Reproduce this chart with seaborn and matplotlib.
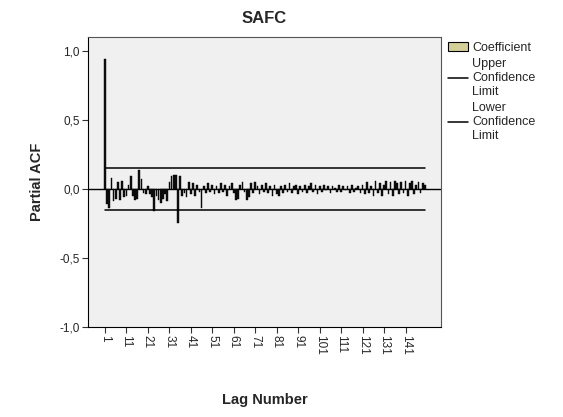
"""
Partial autocorrelation plot for SAFC (SPSS style)
"""

## Import packages
import numpy as np
import pandas as pd
import matplotlib.pyplot as plt
import seaborn as sns
from matplotlib.patches import Patch
from matplotlib.lines import Line2D


## Data
lags = list(range(1, 151))

pacf = [0.94, -0.11, -0.14, 0.08, -0.09, -0.07, 0.05, -0.08, 0.06, -0.06,
        -0.05, 0.03, 0.09, -0.05, -0.08, -0.07, 0.14, 0.07, -0.03, -0.04,
        0.02, -0.04, -0.06, -0.16, -0.05, -0.08, -0.10, -0.07, -0.04, -0.09,
        0.05, 0.09, 0.10, 0.10, -0.25, 0.09, -0.05, -0.03, -0.06, 0.05,
        -0.04, 0.04, -0.05, 0.03, -0.02, -0.14, 0.02, -0.03, 0.04, -0.02,
        0.03, -0.04, 0.02, -0.03, 0.04, -0.02, 0.03, -0.05, 0.02, 0.04,
        -0.03, -0.08, -0.07, 0.03, 0.05, -0.02, -0.08, -0.06, 0.04, -0.03,
        0.05, 0.02, -0.04, 0.03, -0.02, 0.04, -0.03, 0.02, -0.05, 0.03,
        -0.04, -0.05, 0.02, -0.03, 0.03, -0.02, 0.04, -0.03, 0.02, 0.03,
        -0.04, 0.02, -0.02, 0.03, -0.03, 0.02, 0.04, -0.02, 0.03, -0.04,
        0.02, -0.02, 0.03, -0.01, 0.02, -0.03, 0.02, 0.01, -0.02, 0.03,
        -0.02, 0.02, -0.01, 0.02, -0.03, 0.03, -0.02, 0.01, 0.02, -0.03,
        0.03, -0.04, 0.05, -0.03, 0.02, -0.05, 0.06, -0.03, 0.04, -0.05,
        0.03, 0.06, -0.04, 0.05, -0.05, 0.06, 0.04, -0.04, 0.05, -0.03,
        0.06, -0.05, 0.04, 0.06, -0.04, 0.03, 0.05, -0.03, 0.04, 0.03]

upper_limit = 0.151
lower_limit = -0.151

x_ticks = list(range(1, 151, 10))
y_ticks = [-1.0, -0.5, 0.0, 0.5, 1.0]
y_ticklabels = ["-1,0", "-0,5", "0,0", "0,5", "1,0"]

df = pd.DataFrame({'lag': lags, 'pacf': pacf})


## Figure setup
sns.set_theme(style='ticks')
plt.rcParams['font.family'] = ['Liberation Sans', 'DejaVu Sans']

fig = plt.figure(figsize=(5.63, 4.17), dpi=100)
ax = fig.add_axes([0.1563, 0.2158, 0.627, 0.6955])
ax.set_facecolor('#F0F0F0')

coef_color = '#D5CF98'

# Coefficient bars (thin, so the outline dominates as in SPSS)
sns.barplot(ax=ax, data=df, x='lag', y='pacf', native_scale=True,
            color='#111111', edgecolor='black', linewidth=0.3,
            width=0.8, saturation=1)

# Confidence limits over the lag range
sns.lineplot(ax=ax, x=[lags[0], lags[-1]], y=[upper_limit, upper_limit],
             color='black', linewidth=1.1)
sns.lineplot(ax=ax, x=[lags[0], lags[-1]], y=[lower_limit, lower_limit],
             color='black', linewidth=1.1)

# Zero reference line
ax.axhline(0, color='black', linewidth=1.0, zorder=0.5)

## Axes
ax.set_xlim(-6.9, 157.5)
ax.set_ylim(-1.0, 1.1)

ax.set_xticks(x_ticks)
ax.set_xticklabels([str(t) for t in x_ticks], rotation=270, fontsize=8.5,
                   va='top', ha='center')
ax.set_yticks(y_ticks)
ax.set_yticklabels(y_ticklabels, fontsize=8.5)
ax.tick_params(axis='both', length=4, width=0.8, color='#333333', pad=2)

for side in ['top', 'right', 'bottom', 'left']:
    ax.spines[side].set_color('#555555')
    ax.spines[side].set_linewidth(0.8)
ax.spines['left'].set_color('black')
ax.spines['bottom'].set_color('black')

ax.set_xlabel('Lag Number', fontsize=10.5, fontweight='bold', labelpad=27)
ax.set_ylabel('Partial ACF', fontsize=10.5, fontweight='bold', labelpad=11)
ax.set_title('SAFC', fontsize=12, fontweight='bold', pad=10)

## Legend
handles = [Patch(facecolor=coef_color, edgecolor='black', linewidth=0.8),
           Line2D([0], [0], color='black', linewidth=1.1),
           Line2D([0], [0], color='black', linewidth=1.1)]
labels = ['Coefficient', 'Upper\nConfidence\nLimit', 'Lower\nConfidence\nLimit']
ax.legend(handles, labels, loc='upper left', bbox_to_anchor=(1.0, 1.01),
          frameon=False, fontsize=9, handlelength=1.6, handletextpad=0.3,
          labelspacing=0.35, borderaxespad=0.2)

plt.savefig('out.png', dpi=100)
